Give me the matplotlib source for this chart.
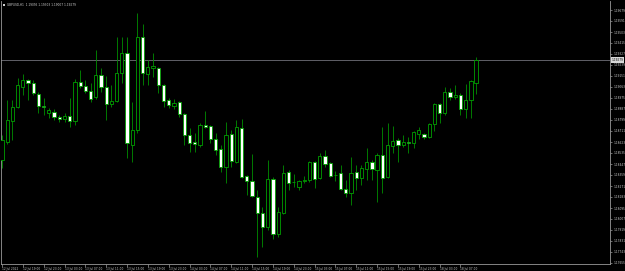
import matplotlib
matplotlib.use("Agg")
import matplotlib.pyplot as plt
from matplotlib.patches import Rectangle

symbol = "GBPUSD,H1"

opens = [1.18479, 1.18623, 1.18791, 1.18903, 1.19063, 1.19119, 1.19095, 1.19007, 1.18911, 1.18855,
         1.18863, 1.18823, 1.18807, 1.18831, 1.18791, 1.19103, 1.19071, 1.19031, 1.18983, 1.19159,
         1.19063, 1.18927, 1.18951, 1.19175, 1.19335, 1.18599, 1.18719, 1.19463, 1.19167, 1.19215,
         1.19215, 1.19079, 1.18959, 1.18911, 1.18943, 1.18847, 1.18679, 1.18623, 1.18599, 1.18759,
         1.18751, 1.18647, 1.18567, 1.18423, 1.18687, 1.18463, 1.18735, 1.18351, 1.18311, 1.18183,
         1.18055, 1.17943, 1.18327, 1.17887, 1.18055, 1.18383, 1.18303, 1.18263, 1.18315, 1.18319,
         1.18463, 1.18335, 1.18511, 1.18455, 1.18359, 1.18375, 1.18247, 1.18215, 1.18383, 1.18335,
         1.18407, 1.18463, 1.18399, 1.18519, 1.18343, 1.18591, 1.18639, 1.18599, 1.18623, 1.18615,
         1.18687, 1.18687, 1.18663, 1.18767, 1.18927, 1.18855, 1.19023, 1.18983, 1.18999, 1.18887,
         1.18959, 1.19095]
highs = [1.18679, 1.18959, 1.18959, 1.19135, 1.19167, 1.19127, 1.19119, 1.19023, 1.18975, 1.18895,
         1.18887, 1.18839, 1.18855, 1.18975, 1.19127, 1.19199, 1.19119, 1.19095, 1.19359, 1.19215,
         1.19151, 1.19079, 1.19463, 1.19463, 1.19463, 1.18943, 1.19655, 1.19567, 1.19279, 1.19335,
         1.19223, 1.19087, 1.18975, 1.18967, 1.18951, 1.18855, 1.18735, 1.18695, 1.18775, 1.18871,
         1.18759, 1.18695, 1.18599, 1.18783, 1.18719, 1.18799, 1.18807, 1.18359, 1.18527, 1.18239,
         1.18103, 1.18479, 1.18343, 1.18103, 1.18439, 1.18399, 1.18367, 1.18319, 1.18351, 1.18471,
         1.18471, 1.18535, 1.18559, 1.18463, 1.18391, 1.18439, 1.18319, 1.18503, 1.18439, 1.18439,
         1.18575, 1.18479, 1.18535, 1.18743, 1.18775, 1.18751, 1.18655, 1.18679, 1.18663, 1.18711,
         1.18743, 1.18695, 1.18775, 1.18935, 1.18935, 1.19063, 1.19055, 1.19079, 1.19015, 1.19087,
         1.19119, 1.19303]
lows = [1.18415, 1.18607, 1.18639, 1.18895, 1.18999, 1.18959, 1.18999, 1.18855, 1.18839, 1.18815,
        1.18799, 1.18783, 1.18783, 1.18743, 1.18759, 1.19055, 1.19015, 1.18943, 1.18967, 1.19023,
        1.18799, 1.18903, 1.18943, 1.19095, 1.18495, 1.18463, 1.18695, 1.19079, 1.19079, 1.19143,
        1.19015, 1.18903, 1.18895, 1.18887, 1.18823, 1.18599, 1.18543, 1.18543, 1.18583, 1.18735,
        1.18615, 1.18519, 1.18383, 1.18295, 1.18423, 1.18455, 1.18335, 1.18199, 1.18183, 1.17703,
        1.17783, 1.17919, 1.17847, 1.17863, 1.18047, 1.18239, 1.18263, 1.18239, 1.18295, 1.18303,
        1.18255, 1.18327, 1.18423, 1.18343, 1.18311, 1.18239, 1.18183, 1.18119, 1.18239, 1.18279,
        1.18319, 1.18319, 1.18143, 1.18215, 1.18335, 1.18535, 1.18463, 1.18583, 1.18535, 1.18575,
        1.18647, 1.18647, 1.18655, 1.18711, 1.18775, 1.18839, 1.18959, 1.18967, 1.18839, 1.18815,
        1.18815, 1.19007]
closes = [1.18639, 1.18799, 1.18903, 1.19079, 1.19119, 1.19095, 1.19015, 1.18911, 1.18903, 1.18879,
          1.18823, 1.18807, 1.18831, 1.18791, 1.19103, 1.19071, 1.19031, 1.18967, 1.19159, 1.19063,
          1.18927, 1.18951, 1.19175, 1.19335, 1.18615, 1.18719, 1.19463, 1.19175, 1.19223, 1.19231,
          1.19079, 1.18951, 1.18919, 1.18935, 1.18847, 1.18679, 1.18615, 1.18607, 1.18759, 1.18743,
          1.18647, 1.18559, 1.18423, 1.18679, 1.18471, 1.18743, 1.18343, 1.18311, 1.18191, 1.18055,
          1.17943, 1.18327, 1.17887, 1.18063, 1.18375, 1.18295, 1.18299, 1.18311, 1.18319, 1.18463,
          1.18327, 1.18511, 1.18447, 1.18351, 1.18355, 1.18247, 1.18215, 1.18375, 1.18335, 1.18415,
          1.18463, 1.18407, 1.18519, 1.18335, 1.18599, 1.18631, 1.18599, 1.18623, 1.18615, 1.18703,
          1.18719, 1.18663, 1.18767, 1.18927, 1.18855, 1.19023, 1.18983, 1.18999, 1.18887, 1.18959,
          1.19111, 1.19279]

price_ticks = [1.19679, 1.19591, 1.19503, 1.19415, 1.19327, 1.19239, 1.19151, 1.19063, 1.18975,
               1.18887, 1.18799, 1.18711, 1.18623, 1.18535, 1.18447, 1.18359, 1.18271, 1.18183,
               1.18095, 1.18007, 1.17919, 1.17831, 1.17743, 1.17655]
time_tick_pos = [0, 4, 8, 12, 16, 20, 24, 28, 32, 36, 40, 44, 48, 52, 56, 60, 64, 68, 72, 76, 80, 84, 88]
time_tick_labels = ["12 Jul 2022", "12 Jul 19:00", "12 Jul 23:00", "13 Jul 03:00", "13 Jul 07:00",
                    "13 Jul 11:00", "13 Jul 15:00", "13 Jul 19:00", "13 Jul 23:00", "14 Jul 03:00",
                    "14 Jul 07:00", "14 Jul 11:00", "14 Jul 15:00", "14 Jul 19:00", "14 Jul 23:00",
                    "15 Jul 03:00", "15 Jul 07:00", "15 Jul 11:00", "15 Jul 15:00", "15 Jul 19:00",
                    "15 Jul 23:00", "18 Jul 03:00", "18 Jul 07:00"]

W, H = 625, 271
fig = plt.figure(figsize=(W / 100, H / 100), dpi=100, facecolor="black")
ax = fig.add_axes([1 / W, 7 / H, 609 / W, 263 / H], facecolor="black")

wick_green = "#008f00"
edge_green = "#00a000"
axis_col = "#9a9a9a"
body_w = 0.62

for i, (o, h, l, c) in enumerate(zip(opens, highs, lows, closes)):
    ax.vlines(i, l, h, color=wick_green, linewidth=0.6, zorder=2)
    bottom = min(o, c)
    height = abs(c - o)
    face = "black" if c > o else "white"
    ax.add_patch(Rectangle((i - body_w / 2, bottom), body_w, height,
                           facecolor=face, edgecolor=edge_green, linewidth=0.6, zorder=3))

last = closes[-1]
ax.axhline(last, color="#606068", linewidth=0.7, zorder=1)

ax.set_xlim(-0.19, 116.7)
ax.set_ylim(1.17647, 1.19751)

ax.spines["top"].set_visible(False)
for s in ["left", "right", "bottom"]:
    ax.spines[s].set_color(axis_col)
    ax.spines[s].set_linewidth(0.6)

ax.yaxis.tick_right()
ax.set_yticks(price_ticks)
ax.set_yticklabels([f"{p:.5f}" for p in price_ticks])
ax.tick_params(axis="y", direction="out", length=1.5, width=0.5, color=axis_col,
               labelsize=2.1, labelcolor="#c8c8c8", pad=0.8)
ax.set_xticks(time_tick_pos)
ax.set_xticklabels(time_tick_labels)
ax.tick_params(axis="x", direction="out", length=1.8, width=0.5, color=axis_col,
               labelsize=2.1, labelcolor="#c8c8c8", pad=0.5)
for lab in ax.get_xticklabels():
    lab.set_ha("left")

# current price label
ax.text(1.003, last, f"{last:.5f}", transform=ax.get_yaxis_transform(),
        fontsize=2.1, color="black", va="center", ha="left",
        bbox=dict(boxstyle="square,pad=0.25", facecolor="#d8d8d8", edgecolor="none"))

# title
fig.text(7 / W, 1 - 4.5 / H,
         f"{symbol}  {opens[-1]:.5f} {highs[-1]:.5f} {lows[-1]:.5f} {closes[-1]:.5f}",
         fontsize=2.1, color="#d0d0d0", va="center", ha="left")
fig.patches.append(Rectangle((2.5 / W, 1 - 6 / H), 2.5 / W, 2.5 / H, transform=fig.transFigure,
                             facecolor="#d0d0d0", edgecolor="none"))

fig.savefig("out.png", dpi=100, facecolor="black")
